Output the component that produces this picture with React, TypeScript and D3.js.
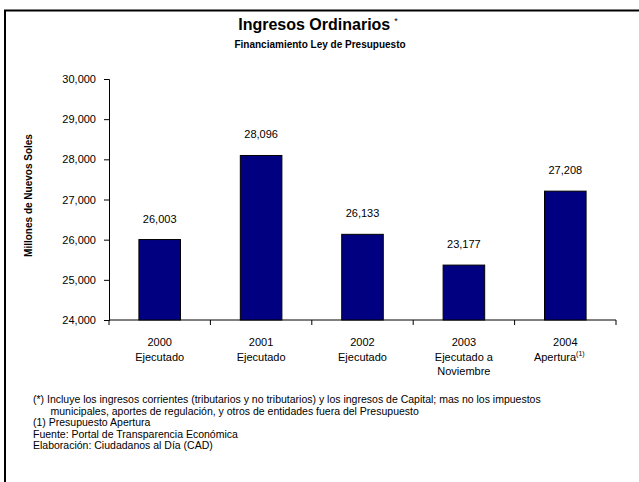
import { useEffect, useRef } from 'react';
import * as d3 from 'd3';

const years = ['2000', '2001', '2002', '2003', '2004'];
const subLabels = [['Ejecutado'], ['Ejecutado'], ['Ejecutado'], ['Ejecutado a', 'Noviembre'], ['Apertura']];
// bar heights as drawn in the original (2003 bar is drawn higher than its label)
const barValues = [26003, 28096, 26133, 25367, 27208];
const valueLabels = ['26,003', '28,096', '26,133', '23,177', '27,208'];
const yTicks = [24000, 25000, 26000, 27000, 28000, 29000, 30000];
const notes = [
  '(*) Incluye los ingresos corrientes (tributarios y no tributarios) y los ingresos de Capital; mas no los impuestos',
  '      municipales, aportes de regulación, y otros de entidades fuera del Presupuesto',
  '(1) Presupuesto Apertura',
  'Fuente: Portal de Transparencia Económica',
  'Elaboración: Ciudadanos al Día (CAD)',
];

const FONT = '"Liberation Sans", Arial, sans-serif';

export default function App() {
  const ref = useRef<SVGSVGElement>(null);

  useEffect(() => {
    if (!ref.current) return;
    const svg = d3.select(ref.current);
    svg.selectAll('*').remove();
    svg.attr('width', 639).attr('height', 482).style('font-family', FONT);

    svg.append('rect').attr('width', 639).attr('height', 482).attr('fill', '#fff');

    // frame (right and bottom edges fall outside the picture)
    svg.append('path')
      .attr('d', 'M5,482 V10.5 H639')
      .attr('fill', 'none')
      .attr('stroke', '#000')
      .attr('stroke-width', 2);

    // titles
    const title = svg.append('text')
      .attr('x', 318)
      .attr('y', 30)
      .attr('text-anchor', 'middle')
      .style('font-size', '16px')
      .style('font-weight', 'bold');
    title.append('tspan').text('Ingresos Ordinarios');
    title.append('tspan').attr('dx', 4).attr('dy', -6).style('font-size', '9px').style('font-weight', 'normal').text('*');

    svg.append('text')
      .attr('x', 320)
      .attr('y', 48)
      .attr('text-anchor', 'middle')
      .style('font-size', '10px')
      .style('font-weight', 'bold')
      .text('Financiamiento Ley de Presupuesto');

    const margin = { top: 79, left: 109 };
    const width = 507;
    const height = 241;

    const chart = svg.append('g').attr('transform', `translate(${margin.left},${margin.top})`);

    const x = d3.scaleBand().domain(years).range([0, width]).paddingInner(0.59).paddingOuter(0.295);
    const y = d3.scaleLinear().domain([24000, 30000]).range([height, 0]);

    // y axis
    const yAxis = chart.append('g')
      .call(d3.axisLeft(y).tickValues(yTicks).tickFormat(d3.format(',')).tickSize(5).tickPadding(8));
    yAxis.select('.domain').attr('stroke', '#000');
    yAxis.selectAll('text').style('font-size', '11px').style('font-family', FONT).attr('fill', '#000');

    // x axis with ticks at category boundaries
    const bounds = d3.range(years.length + 1).map(i => (i * width) / years.length);
    const xAxis = chart.append('g').attr('transform', `translate(0,${height})`);
    xAxis.append('line').attr('x1', 0).attr('x2', width).attr('stroke', '#000');
    xAxis.selectAll('line.tick')
      .data(bounds)
      .enter()
      .append('line')
      .attr('class', 'tick')
      .attr('x1', d => d)
      .attr('x2', d => d)
      .attr('y1', 0)
      .attr('y2', 5)
      .attr('stroke', '#000');

    // bars
    chart.selectAll('rect.bar')
      .data(barValues)
      .enter()
      .append('rect')
      .attr('class', 'bar')
      .attr('x', (_, i) => x(years[i]) as number)
      .attr('y', d => y(d))
      .attr('width', x.bandwidth())
      .attr('height', d => height - y(d))
      .attr('fill', '#000080')
      .attr('stroke', '#000')
      .attr('stroke-width', 1);

    // value labels
    chart.selectAll('text.val')
      .data(barValues)
      .enter()
      .append('text')
      .attr('class', 'val')
      .attr('x', (_, i) => (x(years[i]) as number) + x.bandwidth() / 2)
      .attr('y', d => y(d) - 17)
      .attr('text-anchor', 'middle')
      .style('font-size', '11px')
      .text((_, i) => valueLabels[i]);

    // category labels
    years.forEach((yr, i) => {
      const cx = (x(yr) as number) + x.bandwidth() / 2;
      const t = chart.append('text')
        .attr('x', cx)
        .attr('y', height + 26)
        .attr('text-anchor', 'middle')
        .style('font-size', '11px');
      t.append('tspan').attr('x', cx).text(yr);
      subLabels[i].forEach((s, j) => {
        const sp = t.append('tspan').attr('x', cx).attr('dy', j === 0 ? 15 : 14).text(s);
        if (i === years.length - 1) {
          sp.attr('x', cx - 6);
        }
      });
      if (i === years.length - 1) {
        t.append('tspan').attr('dy', -5).style('font-size', '7px').text('(1)');
      }
    });

    // y axis title
    svg.append('text')
      .attr('transform', `translate(32,${margin.top + height / 2 - 4}) rotate(-90)`)
      .attr('text-anchor', 'middle')
      .style('font-size', '10px')
      .style('font-weight', 'bold')
      .text('Millones de Nuevos Soles');

    // footnotes
    svg.append('g')
      .selectAll('text')
      .data(notes)
      .enter()
      .append('text')
      .attr('x', 33)
      .attr('y', (_, i) => 403 + i * 11.6)
      .style('font-size', '10.5px')
      .style('white-space', 'pre')
      .attr('xml:space', 'preserve')
      .text(d => d);
  }, []);

  return (
    <div style={{ position: 'absolute', left: 0, top: 0 }}>
      <svg ref={ref} />
    </div>
  );
}
